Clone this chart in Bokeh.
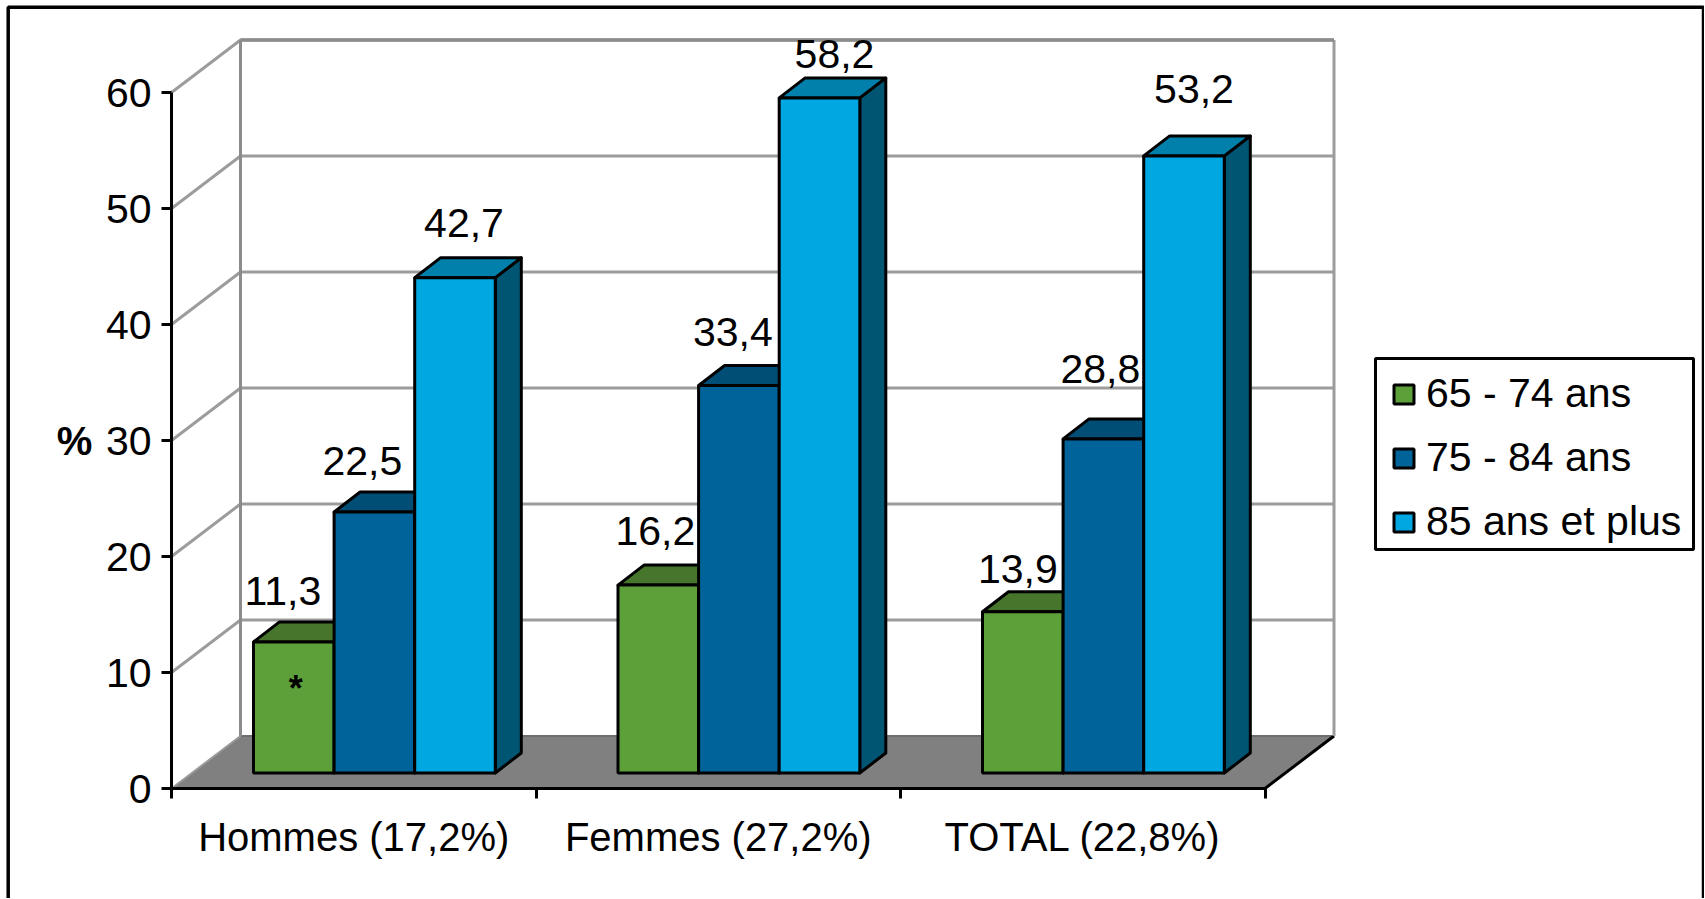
from bokeh.plotting import figure
from bokeh.models import (ColumnDataSource, FixedTicker, LinearAxis, Legend, LegendItem,
                          Range1d, Label)
from bokeh.core.properties import value
from bokeh.embed import file_html
from bokeh.resources import INLINE

# ---- data ----
groups = ["Hommes (17,2%)", "Femmes (27,2%)", "TOTAL (22,8%)"]
series = ["65 - 74 ans", "75 - 84 ans", "85 ans et plus"]
s65_74 = [11.3, 16.2, 13.9]
s75_84 = [22.5, 33.4, 28.8]
s85_up = [42.7, 58.2, 53.2]
y_ticks = [0, 10, 20, 30, 40, 50, 60]
front_colors = ["#5DA03A", "#00649A", "#00A7E1"]
top_colors = ["#46752B", "#004D75", "#0080AB"]
side_colors = ["#3A6224", "#004263", "#005573"]
# hand-placed label nudges of the source chart (px), one list per series
label_dx = [[-11, -3, -5], [-12, -6, -3], [9, 15, 10]]
label_dy = [[-51, -54, -43], [-51, -54, -70], [-55, -44, -67]]

# ---- layout ----
FONT = value("Liberation Sans")
FS = "41px"
OX, OY, W, H = 0, 0, 1704, 898          # figure box on the page
AX_X, AX_Y = 171.0, 788.0               # page position of the axes' origin
UX, UY = 364.5, 11.6                    # px per category, px per %
DX, DY = 69 / UX, 52.5 / UY             # depth of the floor, in data units
BAR_W = 80.6 / UX
BAR_X0 = 82 / UX
BAR_BASE = 15.5 / UY
BDX, BDY = 26 / UX, 20 / UY             # depth of a bar

def xd(px): return (px - AX_X) / UX
def yd(py): return (AX_Y - py) / UY

p = figure(width=W, height=H, output_backend="svg", toolbar_location=None,
           x_axis_type=None, y_axis_type=None, min_border=0,
           x_range=Range1d(xd(OX), xd(OX + W)), y_range=Range1d(yd(OY + H), yd(OY)),
           outline_line_color=None)
p.background_fill_color = "white"
p.border_fill_color = "white"

# page frame
p.line([xd(7.7), xd(7.7), xd(1703), xd(1703)], [yd(905), yd(6.7), yd(6.7), yd(905)],
       line_color="black", line_width=3.5)

# floor
n = len(groups)
p.patch([0, n, n + DX, DX], [0, 0, DY, DY], fill_color="#808080", line_color=None)
p.line([DX, n + DX], [DY, DY], line_color="#6E6E6E", line_width=2)
p.line([0, DX], [0, DY], line_color="#9A9A9A", line_width=2)
p.line([n, n + DX], [0, DY], line_color="black", line_width=3)

# gridlines on side and back walls
for t in y_ticks[1:]:
    p.line([0, DX, n + DX], [t, t + DY, t + DY], line_color="#9C9C9C", line_width=3)
p.line([DX, DX], [DY, y_ticks[-1] + DY], line_color="#8C8C8C", line_width=3)
p.line([n + DX, n + DX], [DY, y_ticks[-1] + DY], line_color="#9C9C9C", line_width=3)
p.line([DX, n + DX], [y_ticks[-1] + DY] * 2, line_color="#8C8C8C", line_width=3.5)

# legend box
p.quad(left=[xd(1375)], right=[xd(1693)], top=[yd(358)], bottom=[yd(549)],
       fill_color="white", line_color="black", line_width=3)

# bars
legend_items = []
for s, vals in enumerate([s65_74, s75_84, s85_up]):
    left = [g + BAR_X0 + s * BAR_W for g in range(n)]
    right = [l + BAR_W for l in left]
    top = [v + BAR_BASE for v in vals]
    bottom = [BAR_BASE] * n
    p.patches([[r, r + BDX, r + BDX, r] for r in right],
              [[b, b + BDY, t + BDY, t] for b, t in zip(bottom, top)],
              fill_color=side_colors[s], line_color="black", line_width=3, line_join="round")
    p.patches([[l, l + BDX, r + BDX, r] for l, r in zip(left, right)],
              [[t, t + BDY, t + BDY, t] for t in top],
              fill_color=top_colors[s], line_color="black", line_width=3, line_join="round")
    src = ColumnDataSource(dict(left=left, right=right, top=top, bottom=bottom))
    r = p.quad(left="left", right="right", top="top", bottom="bottom", source=src,
               fill_color=front_colors[s], line_color="black", line_width=3)
    legend_items.append(LegendItem(label=series[s], renderers=[r]))
    lab = ColumnDataSource(dict(x=[(a + b) / 2 for a, b in zip(left, right)], y=top,
                                t=[f"{v:.1f}".replace(".", ",") for v in vals],
                                dx=label_dx[s], dy=label_dy[s]))
    p.text(x="x", y="y", text="t", x_offset="dx", y_offset="dy", source=lab,
           text_font=FONT, text_font_size=FS, text_color="black",
           text_align="center", text_baseline="alphabetic")

# the asterisk on the first bar
p.text(x=[BAR_X0 + BAR_W / 2], y=[s65_74[0] / 2 + BAR_BASE], text=["*"], text_font=FONT,
       text_font_size="36px", text_font_style="bold", text_color="black",
       text_align="center", text_baseline="middle", x_offset=[2], y_offset=[-19])

# axes
yax = LinearAxis(fixed_location=0, ticker=FixedTicker(ticks=y_ticks), bounds=(0, y_ticks[-1]))
yax.axis_line_color = "black"; yax.axis_line_width = 3
yax.major_tick_line_color = "black"; yax.major_tick_line_width = 3
yax.major_tick_in = 0; yax.major_tick_out = 10
yax.minor_tick_line_color = None
yax.major_label_text_font = "Liberation Sans"; yax.major_label_text_font_size = FS
yax.major_label_text_color = "black"; yax.major_label_standoff = 10
p.add_layout(yax, "left")

xax = LinearAxis(fixed_location=0, ticker=FixedTicker(ticks=list(range(n + 1))), bounds=(0, n),
                 major_label_overrides={i: "" for i in range(n + 1)})
xax.axis_line_color = "black"; xax.axis_line_width = 3
xax.major_tick_line_color = "black"; xax.major_tick_line_width = 3
xax.major_tick_in = 0; xax.major_tick_out = 10
xax.minor_tick_line_color = None
p.add_layout(xax, "below")

lax = LinearAxis(fixed_location=0, ticker=FixedTicker(ticks=[g + 0.5 for g in range(n)]),
                 bounds=(0, n), major_label_overrides={g + 0.5: groups[g] for g in range(n)})
lax.axis_line_color = None; lax.major_tick_line_color = None; lax.minor_tick_line_color = None
lax.major_tick_in = 0; lax.major_tick_out = 0
lax.major_label_standoff = 26
lax.major_label_text_font = "Liberation Sans"; lax.major_label_text_font_size = "40px"
lax.major_label_text_color = "black"
p.add_layout(lax, "below")

p.add_layout(Label(x=xd(74), y=yd(440), text="%", text_font="Liberation Sans", text_font_size="40px",
                   text_font_style="bold", text_color="black", text_align="center",
                   text_baseline="alphabetic"))

# legend
leg = Legend(items=legend_items, location=(1391 - OX, OY + H - 545), orientation="vertical",
             border_line_color=None, background_fill_alpha=0, margin=0, padding=10, spacing=17,
             glyph_width=25, glyph_height=24, label_height=40, label_standoff=10,
             label_text_font="Liberation Sans", label_text_font_size=FS, label_text_color="black")
p.add_layout(leg, "center")

open("out.html", "w").write(file_html(p, INLINE))
